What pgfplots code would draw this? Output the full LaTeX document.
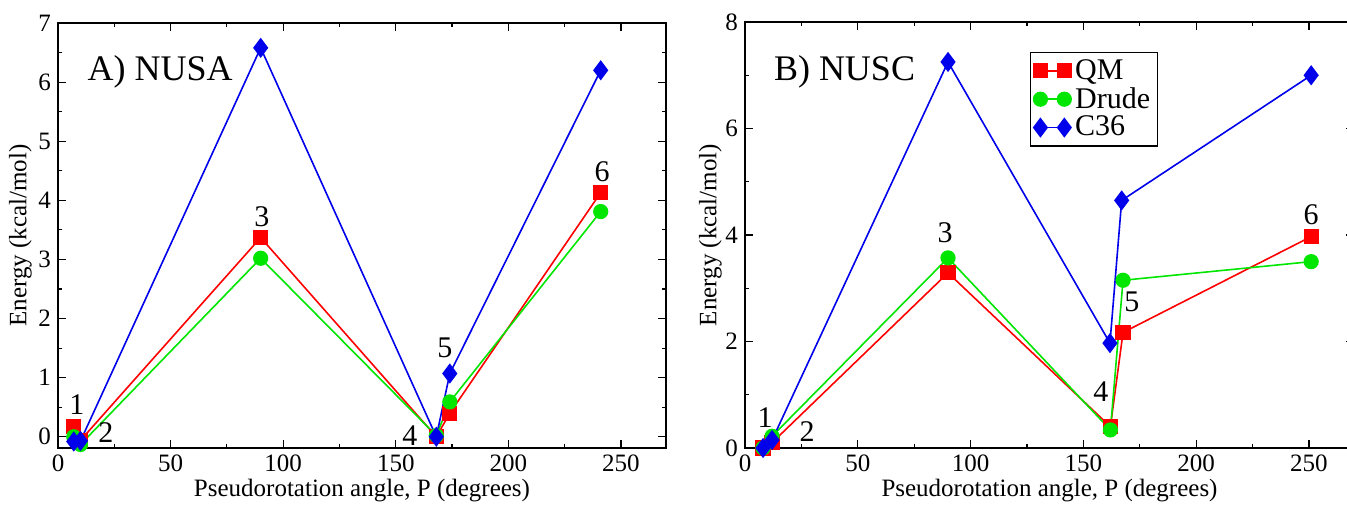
\documentclass[border=0pt]{standalone}
\usepackage{fontspec}
\setmainfont{Liberation Serif}
\usepackage{pgfplots}
\pgfplotsset{compat=1.18}
\definecolor{qmred}{RGB}{255,0,0}
\definecolor{drgreen}{RGB}{0,230,0}
\definecolor{cblue}{RGB}{0,0,235}
\tikzset{ptlab/.style={font=\fontsize{15}{15}\selectfont, anchor=center}}
\pgfplotsset{
  panel/.style={
    scale only axis,
    anchor=south west,
    xmin=0, xmax=270,
    xtick={0,50,...,250},
    minor x tick num=1,
    tick align=inside,
    major tick length=4pt,
    minor tick length=2.2pt,
    axis line style={line width=0.9pt},
    every tick/.style={black, line width=0.6pt},
    tick label style={font=\fontsize{12.5}{12.5}\selectfont},
    /pgf/number format/assume math mode=true,
    label style={font=\fontsize{12.5}{12.5}\selectfont},
    xlabel={Pseudorotation angle, P (degrees)},
    ylabel={Energy (kcal/mol)},
    xlabel style={at={(axis description cs:0.5,-0.099)}, anchor=center},
    legend image code/.code={\draw[#1] plot coordinates {(0cm,0cm) (0.42cm,0cm)};},
  },
  qm/.style={color=qmred, line width=0.8pt, mark=square*, mark size=3.4pt},
  dr/.style={color=drgreen, line width=0.8pt, mark=*, mark size=3.4pt},
  cc/.style={color=cblue, line width=0.8pt, mark=diamond*, mark size=4.4pt},
}
\begin{document}
\begin{tikzpicture}
\useasboundingbox (0,0) rectangle (673.5pt,252pt);
% ---------------- Panel A ----------------
\begin{axis}[panel,
  at={(29pt,28pt)},
  width=304pt, height=212.5pt,
  ymin=-0.19, ymax=7,
  ytick={0,1,...,7},
  minor y tick num=1,
  ylabel style={at={(axis description cs:-0.062,0.5)}, anchor=center},
]
\addplot[qm] coordinates {(7,0.18) (10,-0.06) (90,3.37) (168,0.0) (174,0.40) (241,4.13)};
\addplot[dr] coordinates {(7,0.0) (10,-0.13) (90,3.02) (168,0.02) (174,0.59) (241,3.81)};
\addplot[cc] coordinates {(7,-0.08) (10,-0.07) (90,6.58) (168,0.0) (174,1.07) (241,6.2)};
\node[ptlab] at (axis cs:8.4,0.55) {1};
\node[ptlab] at (axis cs:21.3,0.07) {2};
\node[ptlab] at (axis cs:90.5,3.72) {3};
\node[ptlab] at (axis cs:156.3,0.02) {4};
\node[ptlab] at (axis cs:171.8,1.5) {5};
\node[ptlab] at (axis cs:241.6,4.48) {6};
\node[anchor=west, font=\fontsize{18}{18}\selectfont] at (axis description cs:0.037,0.885) {A) NUSA};
\end{axis}
% ---------------- Panel B ----------------
\begin{axis}[panel,
  at={(372.5pt,28pt)},
  width=304.5pt, height=213pt,
  ymin=0, ymax=8,
  ytick={0,2,...,8},
  minor y tick num=1,
  ylabel style={at={(axis description cs:-0.057,0.5)}, anchor=center},
  legend style={at={(axis description cs:0.468,0.93)}, anchor=north west,
    draw=black, line width=0.6pt, font=\fontsize{15}{15}\selectfont,
    inner sep=1.5pt, row sep=-1.5pt, cells={anchor=west},
    legend cell align=left},
]
\addplot[qm] coordinates {(8,0.0) (12,0.1) (90,3.29) (162,0.4) (167.6,2.17) (251,3.97)};
\addlegendentry{QM}
\addplot[dr] coordinates {(8,0.0) (12,0.22) (90,3.57) (162,0.34) (167.6,3.15) (251,3.5)};
\addlegendentry{Drude}
\addplot[cc] coordinates {(8,0.0) (12,0.15) (90,7.25) (161.8,1.97) (167,4.65) (251,7.0)};
\addlegendentry{C36}
\node[ptlab] at (axis cs:8.9,0.58) {1};
\node[ptlab] at (axis cs:27.5,0.3) {2};
\node[ptlab] at (axis cs:88.7,4.04) {3};
\node[ptlab] at (axis cs:157.8,1.05) {4};
\node[ptlab] at (axis cs:171.5,2.74) {5};
\node[ptlab] at (axis cs:251,4.38) {6};
\node[anchor=west, font=\fontsize{18}{18}\selectfont] at (axis description cs:0.036,0.883) {B) NUSC};
\end{axis}
\end{tikzpicture}
\end{document}
